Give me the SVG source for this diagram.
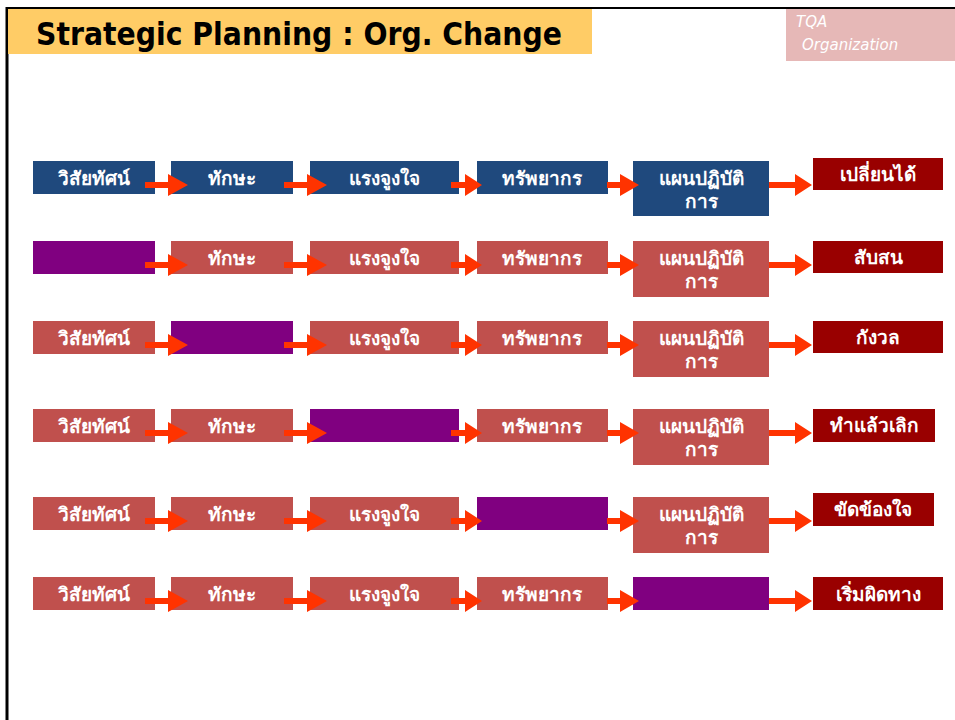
<svg xmlns="http://www.w3.org/2000/svg" xmlns:xlink="http://www.w3.org/1999/xlink" width="955" height="720" viewBox="0 0 955 720">
<style>
.t{font-family:Tahoma,"DejaVu Sans","Noto Sans",sans-serif;font-weight:bold;font-size:19px;fill:#ffffff;text-anchor:middle}
.blue{fill:#1F497D}
.red{fill:#C0504D}
.pur{fill:#800080}
.out{fill:#990000}
.arr{fill:#FF3300}
</style>
<defs>
<polygon id="a1" points="145,-3 168,-3 168,-11 188,0 168,11 168,3 145,3"/>
<polygon id="a2" points="284,-3 307,-3 307,-11 327,0 307,11 307,3 284,3"/>
<polygon id="a3" points="451,-3 465,-3 465,-11 482,0 465,11 465,3 451,3"/>
<polygon id="a4" points="607,-3 620,-3 620,-11 639,0 620,11 620,3 607,3"/>
<polygon id="a5" points="769,-3 795,-3 795,-11 812,0 795,11 795,3 769,3"/>
</defs>
<rect width="955" height="720" fill="#ffffff"/>
<g id="frame">
<line x1="6" y1="8" x2="955" y2="8" stroke="#000" stroke-width="2"/>
<line x1="7" y1="7" x2="7" y2="720" stroke="#000" stroke-width="3"/>
</g>
<g id="title">
<rect x="8" y="9" width="584" height="45" fill="#FFCC66"/>
<text x="36" y="45" font-family="Tahoma,'DejaVu Sans',sans-serif" font-weight="bold" font-size="32" fill="#000" textLength="526" lengthAdjust="spacingAndGlyphs">Strategic Planning : Org. Change</text>
</g>
<g id="tqa">
<rect x="786" y="9" width="169" height="52" fill="#E6B8B7"/>
<text x="796" y="27" font-family="'Segoe Print','Comic Sans MS','DejaVu Sans',sans-serif" font-style="italic" font-size="15" fill="#fff">TQA</text>
<text x="802" y="50" font-family="'Segoe Print','Comic Sans MS','DejaVu Sans',sans-serif" font-style="italic" font-size="15" fill="#fff">Organization</text>
</g>
<g id="row1">
<g id="r1c1"><rect class="blue" x="33" y="161" width="122" height="33"/><text class="t" x="94" y="185">วิสัยทัศน์</text></g>
<g id="r1c2"><rect class="blue" x="171" y="161" width="122" height="33"/><text class="t" x="232" y="185">ทักษะ</text></g>
<g id="r1c3"><rect class="blue" x="310" y="161" width="149" height="33"/><text class="t" x="384" y="185">แรงจูงใจ</text></g>
<g id="r1c4"><rect class="blue" x="477" y="161" width="131" height="33"/><text class="t" x="542" y="185">ทรัพยากร</text></g>
<g id="r1c5"><rect class="blue" x="633" y="161" width="136" height="55"/><text class="t" x="701" y="185">แผนปฏิบัติ</text><text class="t" x="701" y="208">การ</text></g>
<g id="r1c6"><rect class="out" x="813" y="158" width="130" height="32"/><text class="t" x="878" y="181">เปลี่ยนได้</text></g>
</g>
<g id="row2">
<g id="r2c1"><rect class="pur" x="33" y="241" width="122" height="33"/></g>
<g id="r2c2"><rect class="red" x="171" y="241" width="122" height="33"/><text class="t" x="232" y="265">ทักษะ</text></g>
<g id="r2c3"><rect class="red" x="310" y="241" width="149" height="33"/><text class="t" x="384" y="265">แรงจูงใจ</text></g>
<g id="r2c4"><rect class="red" x="477" y="241" width="131" height="33"/><text class="t" x="542" y="265">ทรัพยากร</text></g>
<g id="r2c5"><rect class="red" x="633" y="241" width="136" height="56"/><text class="t" x="701" y="265">แผนปฏิบัติ</text><text class="t" x="701" y="288">การ</text></g>
<g id="r2c6"><rect class="out" x="813" y="241" width="130" height="32"/><text class="t" x="878" y="264">สับสน</text></g>
</g>
<g id="row3">
<g id="r3c1"><rect class="red" x="33" y="321" width="122" height="33"/><text class="t" x="94" y="345">วิสัยทัศน์</text></g>
<g id="r3c2"><rect class="pur" x="171" y="321" width="122" height="33"/></g>
<g id="r3c3"><rect class="red" x="310" y="321" width="149" height="33"/><text class="t" x="384" y="345">แรงจูงใจ</text></g>
<g id="r3c4"><rect class="red" x="477" y="321" width="131" height="33"/><text class="t" x="542" y="345">ทรัพยากร</text></g>
<g id="r3c5"><rect class="red" x="633" y="321" width="136" height="56"/><text class="t" x="701" y="345">แผนปฏิบัติ</text><text class="t" x="701" y="368">การ</text></g>
<g id="r3c6"><rect class="out" x="813" y="321" width="130" height="32"/><text class="t" x="878" y="344">กังวล</text></g>
</g>
<g id="row4">
<g id="r4c1"><rect class="red" x="33" y="409" width="122" height="33"/><text class="t" x="94" y="433">วิสัยทัศน์</text></g>
<g id="r4c2"><rect class="red" x="171" y="409" width="122" height="33"/><text class="t" x="232" y="433">ทักษะ</text></g>
<g id="r4c3"><rect class="pur" x="310" y="409" width="149" height="33"/></g>
<g id="r4c4"><rect class="red" x="477" y="409" width="131" height="33"/><text class="t" x="542" y="433">ทรัพยากร</text></g>
<g id="r4c5"><rect class="red" x="633" y="409" width="136" height="56"/><text class="t" x="701" y="433">แผนปฏิบัติ</text><text class="t" x="701" y="456">การ</text></g>
<g id="r4c6"><rect class="out" x="813" y="409" width="122" height="33"/><text class="t" x="874" y="432">ทำแล้วเลิก</text></g>
</g>
<g id="row5">
<g id="r5c1"><rect class="red" x="33" y="497" width="122" height="33"/><text class="t" x="94" y="521">วิสัยทัศน์</text></g>
<g id="r5c2"><rect class="red" x="171" y="497" width="122" height="33"/><text class="t" x="232" y="521">ทักษะ</text></g>
<g id="r5c3"><rect class="red" x="310" y="497" width="149" height="33"/><text class="t" x="384" y="521">แรงจูงใจ</text></g>
<g id="r5c4"><rect class="pur" x="477" y="497" width="131" height="33"/></g>
<g id="r5c5"><rect class="red" x="633" y="497" width="136" height="56"/><text class="t" x="701" y="521">แผนปฏิบัติ</text><text class="t" x="701" y="544">การ</text></g>
<g id="r5c6"><rect class="out" x="813" y="493" width="121" height="33"/><text class="t" x="873" y="516">ขัดข้องใจ</text></g>
</g>
<g id="row6">
<g id="r6c1"><rect class="red" x="33" y="577" width="122" height="33"/><text class="t" x="94" y="601">วิสัยทัศน์</text></g>
<g id="r6c2"><rect class="red" x="171" y="577" width="122" height="33"/><text class="t" x="232" y="601">ทักษะ</text></g>
<g id="r6c3"><rect class="red" x="310" y="577" width="149" height="33"/><text class="t" x="384" y="601">แรงจูงใจ</text></g>
<g id="r6c4"><rect class="red" x="477" y="577" width="131" height="33"/><text class="t" x="542" y="601">ทรัพยากร</text></g>
<g id="r6c5"><rect class="pur" x="633" y="577" width="136" height="33"/></g>
<g id="r6c6"><rect class="out" x="813" y="577" width="130" height="33"/><text class="t" x="878" y="601">เริ่มผิดทาง</text></g>
</g>
<g id="connectors" class="arr">
<use xlink:href="#a1" y="185"/><use xlink:href="#a2" y="185"/><use xlink:href="#a3" y="185"/><use xlink:href="#a4" y="185"/><use xlink:href="#a5" y="185"/>
<use xlink:href="#a1" y="265"/><use xlink:href="#a2" y="265"/><use xlink:href="#a3" y="265"/><use xlink:href="#a4" y="265"/><use xlink:href="#a5" y="265"/>
<use xlink:href="#a1" y="345"/><use xlink:href="#a2" y="345"/><use xlink:href="#a3" y="345"/><use xlink:href="#a4" y="345"/><use xlink:href="#a5" y="345"/>
<use xlink:href="#a1" y="433"/><use xlink:href="#a2" y="433"/><use xlink:href="#a3" y="433"/><use xlink:href="#a4" y="433"/><use xlink:href="#a5" y="433"/>
<use xlink:href="#a1" y="521"/><use xlink:href="#a2" y="521"/><use xlink:href="#a3" y="521"/><use xlink:href="#a4" y="521"/><use xlink:href="#a5" y="521"/>
<use xlink:href="#a1" y="601"/><use xlink:href="#a2" y="601"/><use xlink:href="#a3" y="601"/><use xlink:href="#a4" y="601"/><use xlink:href="#a5" y="601"/>
</g>
</svg>
